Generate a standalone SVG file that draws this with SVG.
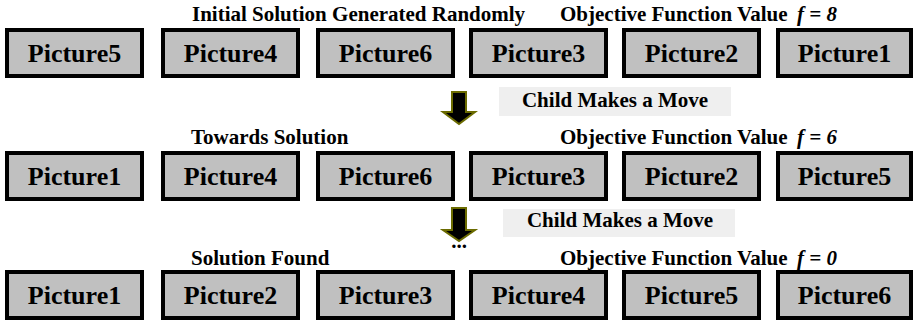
<svg xmlns="http://www.w3.org/2000/svg" width="914" height="325" viewBox="0 0 914 325">
<style>
.box{fill:#c0c0c0;stroke:#000;stroke-width:4}
.lbl{font-family:"Liberation Serif","Times New Roman",serif;font-weight:bold;font-size:26px;text-anchor:middle;fill:#000}
.hdr{font-family:"Liberation Serif","Times New Roman",serif;font-weight:bold;font-size:21px;fill:#000}
.it{font-style:italic}
.tag{fill:#efefef}
.arrow{fill:#000;stroke:#6b6b00;stroke-width:2;stroke-linejoin:miter}
</style>
<rect width="914" height="325" fill="#fff"/>
<g id="headers">
<text class="hdr" x="192" y="21">Initial Solution Generated Randomly</text>
<text class="hdr" x="560" y="21">Objective Function Value</text>
<text class="hdr it" x="797" y="21">f = 8</text>
<text class="hdr" x="191" y="144">Towards Solution</text>
<text class="hdr" x="560" y="144">Objective Function Value</text>
<text class="hdr it" x="797" y="144">f = 6</text>
<text class="hdr" x="191" y="265">Solution Found</text>
<text class="hdr" x="560" y="265">Objective Function Value</text>
<text class="hdr it" x="797" y="265">f = 0</text>
</g>
<g id="row1">
<g id="r1n1"><rect class="box" x="7" y="30" width="135" height="46"/><text class="lbl" x="74.5" y="62">Picture5</text></g>
<g id="r1n2"><rect class="box" x="163" y="30" width="135" height="46"/><text class="lbl" x="230.5" y="62">Picture4</text></g>
<g id="r1n3"><rect class="box" x="318" y="30" width="135" height="46"/><text class="lbl" x="385.5" y="62">Picture6</text></g>
<g id="r1n4"><rect class="box" x="471" y="30" width="135" height="46"/><text class="lbl" x="538.5" y="62">Picture3</text></g>
<g id="r1n5"><rect class="box" x="624" y="30" width="135" height="46"/><text class="lbl" x="691.5" y="62">Picture2</text></g>
<g id="r1n6"><rect class="box" x="778" y="30" width="133" height="46"/><text class="lbl" x="844.5" y="62">Picture1</text></g>
</g>
<g id="row2">
<g id="r2n1"><rect class="box" x="7" y="153" width="135" height="46"/><text class="lbl" x="74.5" y="185">Picture1</text></g>
<g id="r2n2"><rect class="box" x="163" y="153" width="135" height="46"/><text class="lbl" x="230.5" y="185">Picture4</text></g>
<g id="r2n3"><rect class="box" x="318" y="153" width="135" height="46"/><text class="lbl" x="385.5" y="185">Picture6</text></g>
<g id="r2n4"><rect class="box" x="471" y="153" width="135" height="46"/><text class="lbl" x="538.5" y="185">Picture3</text></g>
<g id="r2n5"><rect class="box" x="624" y="153" width="135" height="46"/><text class="lbl" x="691.5" y="185">Picture2</text></g>
<g id="r2n6"><rect class="box" x="778" y="153" width="133" height="46"/><text class="lbl" x="844.5" y="185">Picture5</text></g>
</g>
<g id="row3">
<g id="r3n1"><rect class="box" x="7" y="272" width="135" height="46"/><text class="lbl" x="74.5" y="304">Picture1</text></g>
<g id="r3n2"><rect class="box" x="163" y="272" width="135" height="46"/><text class="lbl" x="230.5" y="304">Picture2</text></g>
<g id="r3n3"><rect class="box" x="318" y="272" width="135" height="46"/><text class="lbl" x="385.5" y="304">Picture3</text></g>
<g id="r3n4"><rect class="box" x="471" y="272" width="135" height="46"/><text class="lbl" x="538.5" y="304">Picture4</text></g>
<g id="r3n5"><rect class="box" x="624" y="272" width="135" height="46"/><text class="lbl" x="691.5" y="304">Picture5</text></g>
<g id="r3n6"><rect class="box" x="778" y="272" width="133" height="46"/><text class="lbl" x="844.5" y="304">Picture6</text></g>
</g>
<g id="connectors">
<polygon class="arrow" points="452,92 466,92 466,112 475,112 459,124 443,112 452,112"/>
<polygon class="arrow" points="452,208 466,208 466,230 475,230 459,241 443,230 452,230"/>
<text class="hdr" x="459" y="248" text-anchor="middle">...</text>
<rect class="tag" x="499" y="87" width="232" height="29"/>
<text class="hdr" x="615" y="107" text-anchor="middle">Child Makes a Move</text>
<rect class="tag" x="503" y="209" width="232" height="28"/>
<text class="hdr" x="620" y="227" text-anchor="middle">Child Makes a Move</text>
</g>
</svg>
